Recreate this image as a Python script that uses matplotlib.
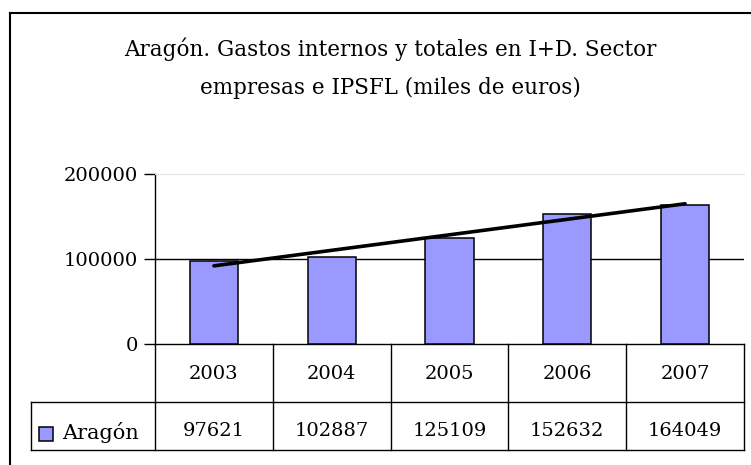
import numpy as np
import matplotlib
matplotlib.use('Agg')
import matplotlib.pyplot as plt
from matplotlib.lines import Line2D
from matplotlib.patches import Rectangle
from matplotlib.transforms import blended_transform_factory

# data
years = ['2003', '2004', '2005', '2006', '2007']
values = [97621, 102887, 125109, 152632, 164049]
series_name = 'Aragón'
title = 'Aragón. Gastos internos y totales en I+D. Sector\nempresas e IPSFL (miles de euros)'
y_ticks = [0, 100000, 200000]

W, H = 751, 465
plt.rcParams['font.family'] = ['DejaVu Serif']
fig = plt.figure(figsize=(W / 100, H / 100), dpi=100)

def fx(px):
    return px / W

def fy(py):
    return 1 - py / H

# outer chart frame (only left and top edges are visible)
fig.add_artist(Line2D([fx(10), fx(10)], [fy(13), fy(465)], color='black', lw=1.5))
fig.add_artist(Line2D([fx(10), fx(751)], [fy(13), fy(13)], color='black', lw=1.5))

# plot area
left, right, top, bottom = 155, 744, 174, 344
ax = fig.add_axes([fx(left), fy(bottom), fx(right - left), (bottom - top) / H])
x = np.arange(len(years))
ax.bar(x, values, width=0.41, color='#9999FF', edgecolor='black', linewidth=1.1, zorder=3)

# linear trend line (as in Excel)
coef = np.polyfit(x, values, 1)
ax.plot(x, np.polyval(coef, x), color='black', lw=2.6, zorder=4, solid_capstyle='round')

ax.set_xlim(-0.5, len(years) - 0.5)
ax.set_ylim(0, 200000)
ax.set_yticks(y_ticks)
ax.set_yticklabels([str(t) for t in y_ticks], fontsize=14)
ax.set_xticks([])
ax.tick_params(axis='y', direction='out', length=8, width=1, pad=4)
ax.axhline(100000, color='black', lw=1, zorder=1)
ax.spines['top'].set_color('#e6e6e6')
ax.spines['right'].set_visible(False)
ax.spines['left'].set_linewidth(1)
ax.spines['bottom'].set_linewidth(1)

fig.suptitle(title, x=fx(390), y=fy(68), va='center', fontsize=15.5, linespacing=1.95)

# data table below the axis
row1_bottom, row2_bottom = 402, 450
col_w = (right - left) / len(years)
lc = 'black'
for i in range(len(years) + 1):
    xp = left + i * col_w
    fig.add_artist(Line2D([fx(xp), fx(xp)], [fy(bottom), fy(row2_bottom)], color=lc, lw=1))
fig.add_artist(Line2D([fx(31), fx(right)], [fy(row1_bottom), fy(row1_bottom)], color=lc, lw=1))
fig.add_artist(Line2D([fx(31), fx(right)], [fy(row2_bottom), fy(row2_bottom)], color=lc, lw=1))
fig.add_artist(Line2D([fx(31), fx(31)], [fy(row1_bottom), fy(row2_bottom)], color=lc, lw=1))

tr = blended_transform_factory(ax.transData, fig.transFigure)
for xi, yr, v in zip(x, years, values):
    ax.text(xi, fy(374), yr, transform=tr, ha='center', va='center', fontsize=14, clip_on=False)
    ax.text(xi, fy(431), str(v), transform=tr, ha='center', va='center', fontsize=14, clip_on=False)

# legend key in the table
fig.add_artist(Rectangle((fx(39), fy(441)), fx(14), 14 / H, facecolor='#9999FF',
                         edgecolor='black', lw=1.1, transform=fig.transFigure))
fig.text(fx(62), fy(432), series_name, ha='left', va='center', fontsize=15)

plt.savefig('out.png', dpi=100)
